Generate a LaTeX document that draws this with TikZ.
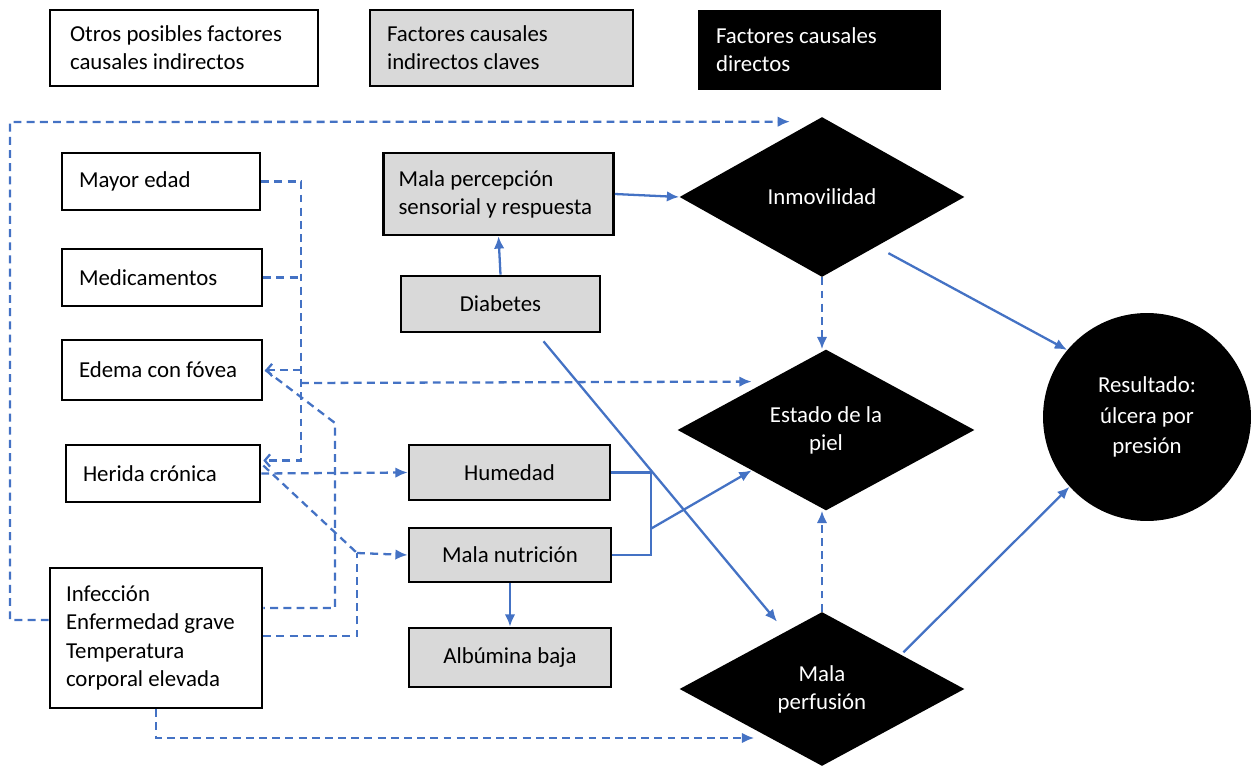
\documentclass[tikz,border=0pt]{standalone}
\usepackage{fontspec}
\setmainfont{Carlito}
\usetikzlibrary{shapes.geometric,arrows.meta,calc}
\definecolor{linkblue}{HTML}{4472C4}
\definecolor{boxgray}{HTML}{D9D9D9}

\begin{document}
\begin{tikzpicture}[x=0.02cm,y=-0.02cm,
    every node/.style={font=\fontsize{13}{16}\selectfont},
    whitebox/.style={draw,line width=1.5pt,fill=white,inner xsep=0.34cm,inner ysep=0pt,align=flush left},
    graybox/.style={whitebox,fill=boxgray},
    keybox/.style={graybox,align=center,inner xsep=0pt},
    blackbox/.style={fill=black,text=white,inner xsep=0.36cm,inner ysep=0pt,align=flush left},
    crit/.style={diamond,fill=black,text=white,align=center,inner sep=0pt,aspect=1.8},
    arr/.style={linkblue,line width=1.3pt,-{Latex[length=7pt,width=6pt]}},
    dline/.style={linkblue,line width=1.3pt,dash pattern=on 4.5pt off 3pt},
    darr/.style={dline,-{Latex[length=7pt,width=6pt]}},
    barb/.style={dline,-{Straight Barb[length=3pt,width=7pt]}}]
    \useasboundingbox (0,0) rectangle (1251,766);

    % legend
    \node[whitebox,inner xsep=0.4cm,text width=4.56cm,minimum height=1.52cm] (otros) at (184,48) {Otros posibles factores\\causales indirectos};
    \node[graybox,text width=4.58cm,minimum height=1.52cm] (claves) at (501.5,48) {Factores causales\\indirectos claves};
    \node[blackbox,text width=4.14cm,minimum height=1.6cm] (directos) at (819.5,50) {Factores causales\\directos};

    % indirect factors
    \node[whitebox,text width=3.28cm,minimum height=1.14cm] (mayor) at (161,181.5) {Mayor edad};
    \node[whitebox,text width=3.32cm,minimum height=1.14cm] (medic) at (162,277.5) {Medicamentos};
    \node[whitebox,text width=3.32cm,minimum height=1.2cm] (edema) at (162,370) {Edema con fóvea};
    \node[whitebox,text width=3.2cm,minimum height=1.14cm] (herida) at (163,473.5) {Herida crónica};
    \node[whitebox,inner xsep=0.32cm,text width=3.6cm,minimum height=2.8cm] (infec) at (156,638) {Infección\\Enfermedad grave\\Temperatura\\corporal elevada};

    % key indirect factors
    \node[graybox,inner xsep=0.3cm,text width=4.0cm,minimum height=1.64cm] (percep) at (498.5,194) {Mala percepción\\sensorial y respuesta};
    \node[keybox,minimum width=3.98cm,minimum height=1.12cm] (diab) at (500.5,304) {Diabetes};
    \node[keybox,minimum width=4.02cm,minimum height=1.1cm] (humed) at (509.5,472.5) {Humedad};
    \node[keybox,minimum width=4.04cm,minimum height=1.08cm] (nutri) at (510,555) {Mala nutrición};
    \node[keybox,minimum width=4.04cm,minimum height=1.18cm] (albu) at (510,657.5) {Albúmina baja};

    % direct factors and outcome
    \node[crit,minimum width=5.7cm,minimum height=3.2cm] (inmov) at (822,197) {Inmovilidad};
    \node[crit,minimum width=5.94cm,minimum height=3.22cm] (piel) at (826,430) {Estado de la\\piel};
    \node[crit,minimum width=5.7cm,minimum height=3.08cm] (perf) at (822,689) {Mala\\perfusión};
    \node[circle,fill=black,text=white,align=center,minimum size=4.16cm,inner sep=0pt,
        font=\fontsize{13}{17.5}\selectfont] (result) at (1147,417) {Resultado:\\úlcera por\\presión};

    % solid links
    \draw[arr] (percep.east) -- (inmov.west);
    \draw[arr] (diab.north) -- (percep.south);
    \draw[arr] ($(diab.south)+(43,8)$) -- ($(perf.north)+(-45,10)$);
    \draw[linkblue,line width=1.3pt] (humed.east) -- ++(40,0) |- (nutri.east);
    \draw[arr] ($(humed.east)+(40,56)$) -- (piel.south west);
    \draw[arr] (nutri.south) -- (albu.north);
    \draw[arr] ($(inmov.south east)+(-5,16)$) -- (result.140);
    \draw[arr] ($(perf.north east)+(10,2)$) -- (result.222);

    % dashed links
    \coordinate (loop) at (10,122);
    \coordinate (bus) at (301,181);
    \coordinate (edemabend) at (335,423);
    \coordinate (nutribend) at (357,553);
    \draw[darr] ($(infec.west)+(0,-18)$) -| (loop) -- ($(inmov.north)+(-32,5)$);
    \draw[darr] (inmov.south) -- (inmov.south |- piel.north);
    \draw[darr] (perf.north) -- (perf.north |- piel.south);
    \draw[barb] (mayor.east) -- (mayor.east -| bus) |- ($(herida.east)+(2,-13)$);
    \draw[dline] (medic.east) -- (medic.east -| bus);
    \draw[barb] (edema.east -| bus) -- ($(edema.east)+(2,0)$);
    \draw[darr] ($(edema.east -| bus)+(0,13)$) -- ($(piel.north west)+(0,-8)$);
    \draw[darr] (herida.east) -- (humed.west);
    \draw[dline] ($(edema.east)+(2,0)$) -- (edemabend) |- ($(infec.east)+(0,-30)$);
    \draw[dline] ($(herida.east)+(2,-8)$) -- (nutribend);
    \draw[darr] (nutribend) -- (nutri.west);
    \draw[dline] ($(infec.east)+(0,-2)$) -| (nutribend);
    \draw[darr] (infec.south) |- ($(perf.west)+(75,49)$);
\end{tikzpicture}
\end{document}
